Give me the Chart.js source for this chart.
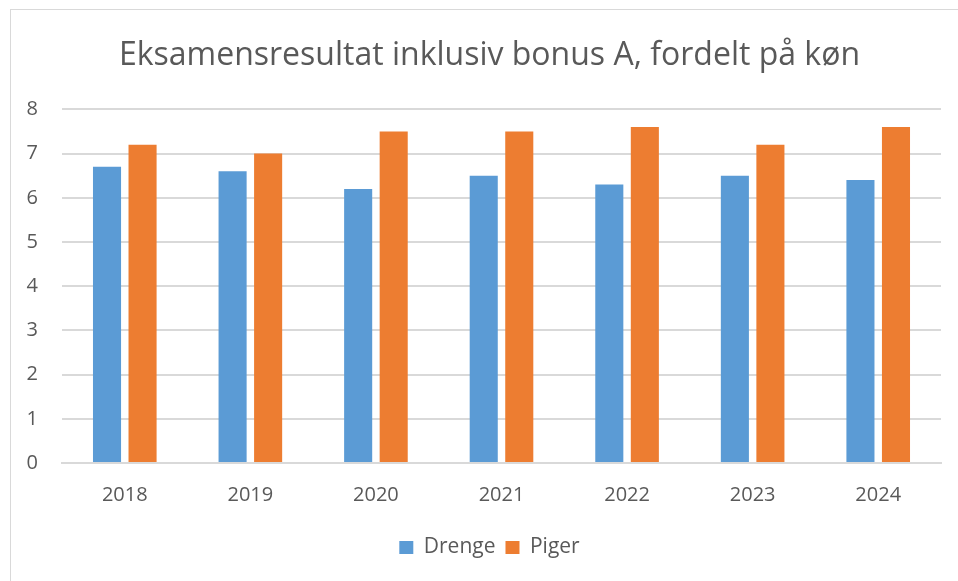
<!DOCTYPE html>
<html>
<head>
<meta charset="utf-8">
<script src="https://cdn.jsdelivr.net/npm/chart.js@4.4.1/dist/chart.umd.min.js"></script>
<style>
    body { margin: 0; background: #ffffff; overflow: hidden; }
    #frame { position: absolute; left: 10px; top: 9px; width: 960px; height: 590px; border: 1px solid #d9d9d9; }
    #chart_container { position: absolute; left: 0; top: 0; width: 958px; height: 581px; }
</style>
</head>
<body>
<div id="frame"></div>
<div id="chart_container">
    <canvas id="barChart" width="958" height="581"></canvas>
</div>
<script>
//data
var years = ["2018", "2019", "2020", "2021", "2022", "2023", "2024"];
var drenge = [6.7, 6.6, 6.2, 6.5, 6.3, 6.5, 6.4];
var piger = [7.2, 7.0, 7.5, 7.5, 7.6, 7.2, 7.6];
var yTicks = [0, 1, 2, 3, 4, 5, 6, 7, 8];

var textColor = "#595959";
var gridColor = "#d9d9d9";

var ctx = document.getElementById("barChart").getContext("2d");

var chart = new Chart(ctx, {
    type: "bar",
    data: {
        labels: years,
        datasets: [
            {
                label: "Drenge",
                data: drenge,
                backgroundColor: "#5b9bd5",
                categoryPercentage: 0.566,
                barPercentage: 0.79
            },
            {
                label: "Piger",
                data: piger,
                backgroundColor: "#ed7d31",
                categoryPercentage: 0.566,
                barPercentage: 0.79
            }
        ]
    },
    options: {
        responsive: false,
        animation: false,
        layout: {
            padding: { left: 24, right: 3, top: 0, bottom: 13 }
        },
        plugins: {
            title: {
                display: true,
                text: "Eksamensresultat inklusiv bonus A, fordelt på køn",
                color: textColor,
                font: { family: "Open Sans", size: 32, weight: "normal" },
                padding: { top: 37, bottom: 34 }
            },
            legend: {
                position: "bottom",
                labels: {
                    color: textColor,
                    font: { family: "Open Sans", size: 21 },
                    boxWidth: 14,
                    boxHeight: 13,
                    padding: 10
                }
            },
            tooltip: { enabled: false }
        },
        scales: {
            x: {
                grid: { display: false, drawTicks: false },
                border: { color: gridColor, width: 2 },
                ticks: {
                    color: textColor,
                    font: { family: "Open Sans", size: 20 },
                    padding: 20
                },
                afterFit: function (scale) {
                    scale.height = 64;
                }
            },
            y: {
                min: 0,
                max: 8,
                afterBuildTicks: function (scale) {
                    scale.ticks = yTicks.map(function (v) { return { value: v }; });
                },
                grid: { color: gridColor, lineWidth: 2, drawTicks: false },
                border: { display: false },
                ticks: {
                    color: textColor,
                    font: { family: "Open Sans", size: 20 },
                    padding: 24
                },
                afterFit: function (scale) {
                    scale.width = 38;
                }
            },
            //empty right margin so the title and legend centre like the original
            yRight: {
                position: "right",
                grid: { display: false, drawTicks: false },
                border: { display: false },
                ticks: { display: false },
                afterFit: function (scale) {
                    scale.width = 14;
                }
            }
        }
    }
});
</script>
</body>
</html>
